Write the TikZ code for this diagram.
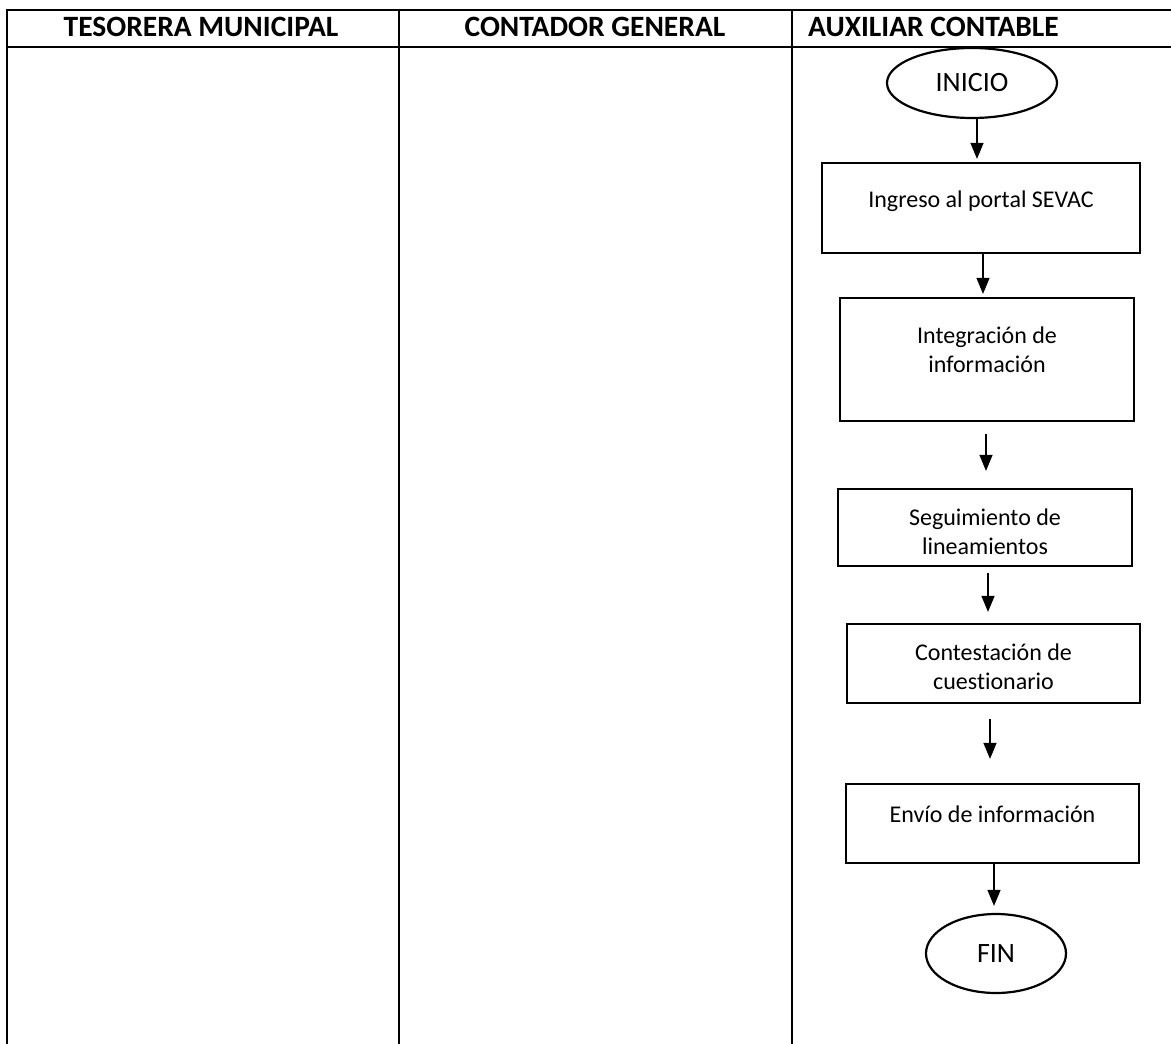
\documentclass[tikz,border=0pt]{standalone}
\usepackage{fontspec}
\setmainfont{Carlito}[Ligatures={NoCommon}]
\usetikzlibrary{arrows.meta,shapes.geometric}
\begin{document}
\begin{tikzpicture}[x=1pt,y=-1pt,
  grid/.style={line width=2.5pt},
  stepbox/.style={draw,line width=2.2pt,rectangle,inner sep=0pt},
  term/.style={draw,line width=2.2pt,ellipse,inner sep=0pt,font=\fontsize{28}{32}\selectfont},
  lbl/.style={align=center,inner sep=0pt,font=\fontsize{24}{29}\selectfont},
  hdr/.style={inner sep=0pt,font=\fontsize{29.5}{32}\selectfont\bfseries},
  arr/.style={line width=1.3pt,-{Triangle[length=16pt,width=13pt]}}]
\useasboundingbox (0,0) rectangle (1171,1044);
% table
\draw[grid] (7,10) -- (1171,10);
\draw[grid] (7,47) -- (1171,47);
\draw[grid] (7,8.75) -- (7,1044);
\draw[grid] (399,10) -- (399,1044);
\draw[grid] (792,10) -- (792,1044);
\node[hdr] (h1) at (201,27) {TESORERA MUNICIPAL};
\node[hdr] (h2) at (595,27) {CONTADOR GENERAL};
\node[hdr,anchor=west] (h3) at (808,27) {AUXILIAR CONTABLE};
% shapes
\node[term,minimum width=170pt,minimum height=70pt] (ini) at (972,83) {INICIO};
\node[stepbox,minimum width=318pt,minimum height=90pt] (b1) at (981,208) {};
\node[lbl] (t1) at (981,201) {Ingreso al portal SEVAC};
\node[stepbox,minimum width=294pt,minimum height=123pt] (b2) at (987,359.5) {};
\node[lbl] (t2) at (987,350) {Integración de\\información};
\node[stepbox,minimum width=294pt,minimum height=77pt] (b3) at (985,527.5) {};
\node[lbl] (t3) at (985,532) {Seguimiento de\\lineamientos};
\node[stepbox,minimum width=293pt,minimum height=79pt] (b4) at (993.5,663.5) {};
\node[lbl] (t4) at (993.5,667) {Contestación de\\cuestionario};
\node[stepbox,minimum width=293pt,minimum height=79pt] (b5) at (992.5,823.5) {};
\node[lbl] (t5) at (992.5,814) {Envío de información};
\node[term,minimum width=140pt,minimum height=79pt] (fin) at (996,953.5) {FIN};
% arrows
\draw[arr] ([xshift=5pt]ini.south) -- ([xshift=-4pt,yshift=3pt]b1.north);
\draw[arr] ([xshift=2pt]b1.south) -- ([xshift=-4pt,yshift=3pt]b2.north);
\draw[arr] ([xshift=-1pt,yshift=-12pt]b2.south) -- ([xshift=1pt,yshift=17pt]b3.north);
\draw[arr] ([xshift=3pt,yshift=-6pt]b3.south) -- ([xshift=-5.5pt,yshift=11pt]b4.north);
\draw[arr] ([xshift=-3.5pt,yshift=-15pt]b4.south) -- ([xshift=-2.5pt,yshift=24pt]b5.north);
\draw[arr] ([xshift=1.5pt]b5.south) -- ([xshift=-2pt,yshift=7pt]fin.north);
\end{tikzpicture}
\end{document}
